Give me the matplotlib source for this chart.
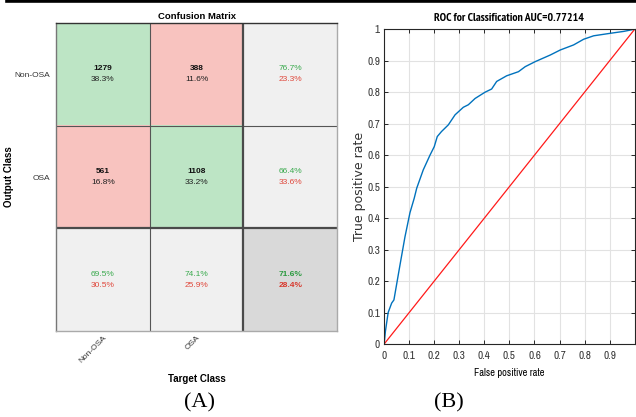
import numpy as np
import matplotlib
matplotlib.use('Agg')
import matplotlib.pyplot as plt
from matplotlib import font_manager as fm
from matplotlib.lines import Line2D

# confusion matrix data (rows = output class, cols = target class)
classes = ['Non-OSA', 'OSA']
counts = np.array([[1279, 388],
                   [561, 1108]])

# ROC curve points
fpr = [0, 0.005, 0.016, 0.03, 0.039, 0.063, 0.083, 0.103, 0.12, 0.13, 0.156, 0.183,
       0.2, 0.212, 0.229, 0.256, 0.283, 0.316, 0.336, 0.363, 0.403, 0.429, 0.449,
       0.489, 0.536, 0.563, 0.603, 0.643, 0.663, 0.703, 0.756, 0.796, 0.836, 0.903,
       0.956, 1.0]
tpr = [0, 0.04, 0.10, 0.13, 0.14, 0.25, 0.34, 0.417, 0.463, 0.495, 0.553, 0.60,
       0.627, 0.659, 0.675, 0.696, 0.728, 0.752, 0.76, 0.78, 0.80, 0.81, 0.834,
       0.852, 0.865, 0.881, 0.897, 0.911, 0.918, 0.934, 0.95, 0.968, 0.979, 0.987,
       0.993, 1.0]
auc = 0.77214
ticks = np.round(np.arange(0, 1.01, 0.1), 1)

GREEN_BG = np.array([189, 229, 197]) / 255
RED_BG = np.array([248, 195, 191]) / 255
GRAY_BG = np.array([240, 240, 240]) / 255
DGRAY_BG = np.array([217, 217, 217]) / 255
GREEN_TX = '#3aaa4e'
RED_TX = '#e0483c'

sans = ['Liberation Sans', 'DejaVu Sans']

# narrow fonts for the ROC panel (the MATLAB export looks squeezed)
def wt(f):
    return f.weight if isinstance(f.weight, int) else {'bold': 700, 'normal': 400}.get(f.weight, 400)

narrow_list = ['Liberation Sans Narrow', 'Arial Narrow', 'Archivo Narrow', 'PT Sans Narrow',
               'Roboto Condensed', 'Open Sans Condensed', 'Encode Sans Condensed']
nar = fm.FontProperties(family='DejaVu Sans', stretch='condensed')
nar_b = fm.FontProperties(family='DejaVu Sans', stretch='condensed', weight='bold')
for cand in narrow_list:
    faces = [f for f in fm.fontManager.ttflist if f.name == cand and f.style == 'normal']
    if faces:
        nar = fm.FontProperties(family=cand)
        break
for cand in narrow_list:
    faces = [f for f in fm.fontManager.ttflist if f.name == cand and f.style == 'normal'
             and wt(f) >= 600]
    if faces:
        nar_b = fm.FontProperties(family=cand, weight='bold')
        break

fig = plt.figure(figsize=(6.36, 4.17), dpi=100)
fig.add_artist(Line2D([0.011, 1], [0.997, 0.997], color='black', lw=2.6,
                      transform=fig.transFigure))

# ---------------- confusion matrix ----------------
ax = fig.add_axes([0.088, 0.206, 0.442, 0.739])
n = len(classes)
total = counts.sum()
img = np.zeros((n + 1, n + 1, 3))
for i in range(n + 1):
    for j in range(n + 1):
        if i == n and j == n:
            img[i, j] = DGRAY_BG
        elif i == n or j == n:
            img[i, j] = GRAY_BG
        elif i == j:
            img[i, j] = GREEN_BG
        else:
            img[i, j] = RED_BG
ax.imshow(img, aspect='auto', interpolation='nearest')

d = 0.055
for i in range(n):
    for j in range(n):
        ax.text(j, i - d, str(counts[i, j]), ha='center', va='center', fontsize=6,
                fontweight='bold', family=sans, color='#111111')
        ax.text(j, i + d, '%.1f%%' % (100 * counts[i, j] / total), ha='center',
                va='center', fontsize=6, family=sans, color='#222222')
    row_ok = 100 * counts[i, i] / counts[i].sum()
    ax.text(n, i - d, '%.1f%%' % row_ok, ha='center', va='center', fontsize=6,
            family=sans, color=GREEN_TX)
    ax.text(n, i + d, '%.1f%%' % (100 - row_ok), ha='center', va='center',
            fontsize=6, family=sans, color=RED_TX)
    col_ok = 100 * counts[i, i] / counts[:, i].sum()
    ax.text(i, n - d, '%.1f%%' % col_ok, ha='center', va='center', fontsize=6,
            family=sans, color=GREEN_TX)
    ax.text(i, n + d, '%.1f%%' % (100 - col_ok), ha='center', va='center',
            fontsize=6, family=sans, color=RED_TX)
acc = 100 * np.trace(counts) / total
ax.text(n, n - d, '%.1f%%' % acc, ha='center', va='center', fontsize=6,
        fontweight='bold', family=sans, color='#2a9a3e')
ax.text(n, n + d, '%.1f%%' % (100 - acc), ha='center', va='center', fontsize=6,
        fontweight='bold', family=sans, color='#d8382c')

for k in range(1, n + 1):
    lw = 1.6 if k == n else 0.8
    c = '#4a4a4a' if k == n else '#555555'
    ax.axvline(k - 0.5, color=c, lw=lw)
    ax.axhline(k - 0.5, color=c, lw=lw)

ax.set_xticks(range(n))
ax.set_xticklabels(classes, rotation=45, ha='right', va='top', fontsize=6,
                   family=sans, color='#333333', rotation_mode='anchor')
ax.set_yticks(range(n))
ax.set_yticklabels(classes, fontsize=6, family=sans, color='#333333')
ax.tick_params(length=0, pad=4)
ax.tick_params(axis='x', pad=2)
ax.spines['top'].set_color('#333333')
ax.spines['left'].set_color('#777777')
ax.spines['bottom'].set_color('#aaaaaa')
ax.spines['right'].set_color('#aaaaaa')
for s in ax.spines.values():
    s.set_linewidth(1.0)
ax.set_title('Confusion Matrix', fontsize=6.8, fontweight='bold', family=sans, pad=3)
ax.set_xlabel('Target Class', fontsize=7, fontweight='bold', family=sans)
ax.xaxis.set_label_coords(0.5, -0.138)
ax.set_ylabel('Output Class', fontsize=7, fontweight='bold', family=sans)
ax.yaxis.set_label_coords(-0.148, 0.5)

# ---------------- ROC ----------------
bx = fig.add_axes([0.604, 0.175, 0.394, 0.755])
bx.plot(fpr, tpr, color='#0072BD', lw=1.0)
bx.plot([0, 1], [0, 1], color='#ff1a1a', lw=0.9)
bx.set_xlim(0, 1)
bx.set_ylim(0, 1)
bx.set_xticks(ticks[:-1])
bx.set_xticklabels([('%g' % t) for t in ticks[:-1]], fontproperties=nar, fontsize=8)
bx.set_yticks(ticks)
bx.set_yticklabels([('%g' % t) for t in ticks], fontproperties=nar, fontsize=8)
bx.grid(True, color='#e2e2e2', lw=0.8)
bx.set_axisbelow(True)
bx.tick_params(direction='in', top=True, right=True, length=3, width=0.7,
               colors='#262626', labelcolor='#333333')
bx.tick_params(axis='x', pad=5)
bx.tick_params(axis='y', pad=3)
for s in bx.spines.values():
    s.set_color('#262626')
    s.set_linewidth(0.8)
bx.set_title('ROC for Classification AUC=%.5f' % auc, fontproperties=nar_b,
             fontsize=8.5, pad=6)
bx.set_xlabel('False positive rate', fontproperties=nar, fontsize=7.5, labelpad=5)
bx.set_ylabel('True positive rate', fontsize=9, family=['DejaVu Sans'],
              color='#333333', labelpad=1)

fig.text(0.314, 0.033, '(A)', fontsize=16, family=['Liberation Serif', 'DejaVu Serif'],
         ha='center', va='center')
fig.text(0.706, 0.033, '(B)', fontsize=16, family=['Liberation Serif', 'DejaVu Serif'],
         ha='center', va='center')

fig.savefig('out.png', dpi=100)
